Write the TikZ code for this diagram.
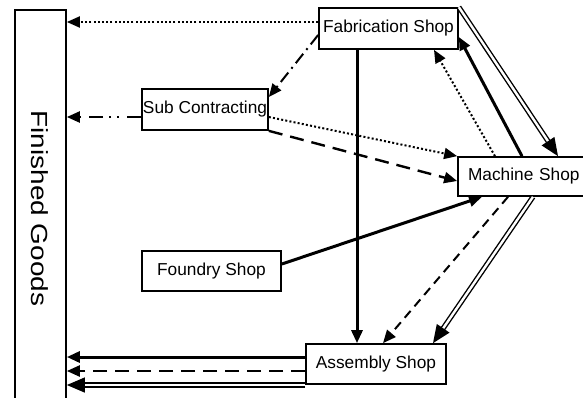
\documentclass[tikz,border=0pt]{standalone}
\usepackage{fontspec}
\setmainfont{Liberation Sans}
\newfontfamily\fgfont[FakeStretch=1.2]{Liberation Sans}
\usetikzlibrary{arrows.meta,calc}
\begin{document}
\begin{tikzpicture}[x=1pt,y=-1pt,
  shopbox/.style={draw, line width=1.7pt, fill=white, inner sep=0pt,
    font=\fontsize{17.3}{20}\selectfont},
  tip/.style={-{Triangle[length=13pt,width=11pt]}},
  bigtip/.style={-{Triangle[length=18pt,width=15pt]}},
  thickline/.style={tip, line width=3pt},
  dotline/.style={tip, line width=2pt, dash pattern=on 2pt off 2.2pt},
  dashline/.style={tip, line width=2.4pt, dash pattern=on 14pt off 8pt},
  shortdash/.style={tip, line width=2pt, dash pattern=on 9pt off 6pt},
  dashdotline/.style={tip, line width=2pt, dash pattern=on 12pt off 5pt on 2pt off 5pt},
  dashdotdot/.style={tip, line width=2.4pt, dash pattern=on 14pt off 8pt on 2pt off 6pt on 2pt off 6pt},
  dblline/.style={bigtip, line width=1.4pt, double, double distance=2.4pt}]
\useasboundingbox (0,0) rectangle (583,397);
\clip (0,0) rectangle (583,397);
\fill[white] (0,0) rectangle (583,397);

% Finished goods (open at the bottom)
\node[draw, line width=1.7pt, minimum width=51pt, minimum height=430pt, anchor=north, inner sep=0pt] (fg) at (40.5,9) {};
\node[rotate=-90, inner sep=0pt, font=\fgfont\fontsize{23.3}{27}\selectfont] (fgtext) at (40,208.5) {Finished Goods};

% shops
\node[shopbox, minimum width=139pt, minimum height=41pt] (fab) at (388.5,28.5) {Fabrication Shop};
\node[shopbox, minimum width=126pt, minimum height=41pt] (sub) at (205,109.5) {Sub Contracting};
\node[shopbox, minimum width=135pt, minimum height=39pt, text width=121pt, align=left] (mach) at (525.5,176.5) {\hspace{3pt}Machine Shop};
\node[shopbox, minimum width=139pt, minimum height=40pt] (found) at (211.5,271) {Foundry Shop};
\node[shopbox, minimum width=140pt, minimum height=40pt] (asm) at (376,364) {Assembly Shop};

% connectors
\draw[dotline] (fab.west |- 0,22) -- (fg.east |- 0,22);
\draw[dashdotdot] (sub.west |- 0,117) -- (fg.east |- 0,117);
\draw[dashdotline] (fab.west |- 0,35) -- (sub.east |- 0,97);
\draw[dotline] (sub.east |- 0,117) -- (mach.north west);
\draw[dashline] (sub.south east) -- (mach.west |- 0,181);
\draw[thickline] (fab.south -| 357,0) -- (asm.north -| 357,0);
\draw[dotline] (mach.north -| 495,0) -- (fab.south -| 434,0);
\draw[thickline] (mach.north -| 522,0) -- (fab.east |- 0,37);
\draw[dblline] (fab.north east) -- (mach.north -| 558,0);
\draw[thickline] (found.east |- 0,264) -- (mach.south -| 482,0);
\draw[shortdash] (mach.south -| 508,0) -- (asm.north -| 383,0);
\draw[dblline] (mach.south -| 533,0) -- (asm.north -| 433,0);
\draw[thickline] (asm.west |- 0,357) -- (fg.east |- 0,357);
\draw[dashline] (asm.west |- 0,371) -- (fg.east |- 0,371);
\draw[dblline] (asm.west |- 0,385) -- (fg.east |- 0,385);
\end{tikzpicture}
\end{document}
